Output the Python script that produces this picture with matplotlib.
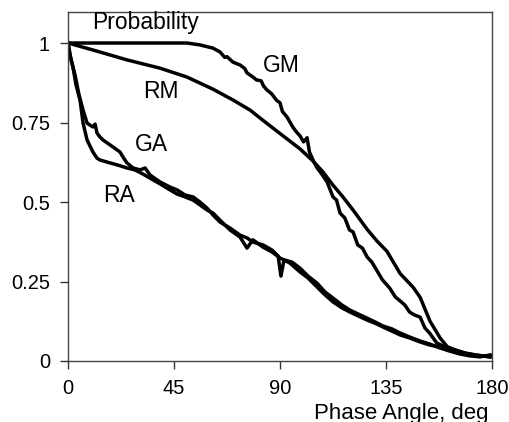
import matplotlib
matplotlib.use("Agg")
import matplotlib.pyplot as plt

plt.rcParams['font.family'] = ['Liberation Sans', 'DejaVu Sans']

# phase angle (deg) and probability
gm_x = [0, 22, 45, 50.5, 56, 61.5, 64.5, 66.5, 67.5, 70, 73, 75, 76, 78.5, 80, 82, 83, 84.5, 86.5, 88.5,
        90, 91, 93, 95.5, 97, 98.5, 100, 101.5, 102.5, 104, 105.5, 108, 110, 112.5, 114, 115.5, 117.5, 119.5, 121, 123,
        125, 127, 129, 131, 133.5, 136.5, 139, 141, 143, 145, 147, 149.5, 151.5, 153.5, 156.5, 160, 164, 168.5, 173, 179]
gm_y = [1, 1, 1, 1, 0.994, 0.984, 0.972, 0.955, 0.957, 0.94, 0.931, 0.92, 0.906, 0.893, 0.884, 0.881, 0.865, 0.852, 0.84, 0.82,
        0.812, 0.785, 0.767, 0.735, 0.72, 0.708, 0.689, 0.702, 0.657, 0.632, 0.61, 0.585, 0.563, 0.516, 0.506, 0.465, 0.45, 0.412, 0.406, 0.365,
        0.355, 0.327, 0.311, 0.286, 0.255, 0.23, 0.201, 0.189, 0.176, 0.154, 0.145, 0.138, 0.104, 0.088, 0.057, 0.044, 0.035, 0.025, 0.019, 0.013]

rm_x = [0, 10.6, 25, 39, 50.5, 61.5, 70, 77.3, 83.6, 91.3, 98.5, 104, 108.3, 112.5, 116.7, 121, 126.9, 131.2, 135.4, 141,
        146.5, 149.5, 153.7, 158, 161, 164.3, 168.5, 172.8, 179.2]
rm_y = [1, 0.978, 0.947, 0.921, 0.893, 0.855, 0.821, 0.789, 0.752, 0.708, 0.667, 0.629, 0.594, 0.553, 0.516, 0.475, 0.415, 0.377, 0.345, 0.275,
        0.232, 0.2, 0.125, 0.072, 0.045, 0.035, 0.025, 0.019, 0.013]

ga_x = [0, 1.3, 3.0, 4.7, 6.4, 8.1, 9.3, 10.6, 11.5, 12.3, 13.6, 14.9, 16.6, 19.1, 20.8, 22.1, 23.3, 25.0, 27.6, 30.6,
        32.7, 34.8, 39.1, 43.3, 46.3, 49.7, 53.1, 56, 59, 61.6, 64.5, 68.8, 73, 76, 78.5, 82.8, 86.6, 89.2, 90.4, 91.7,
        95.1, 98.5, 101.9, 105.7, 109.1, 112.5, 116.3, 119.7, 123.1, 126.9, 130.3, 133.7, 137.5, 141, 145.2, 149.4, 153.7, 157.9, 162.1, 166.4,
        170.7, 174.9, 179.2]
ga_y = [1, 0.947, 0.899, 0.836, 0.789, 0.748, 0.742, 0.736, 0.745, 0.717, 0.704, 0.695, 0.686, 0.673, 0.664, 0.657, 0.642, 0.623, 0.607, 0.601,
        0.607, 0.585, 0.563, 0.547, 0.538, 0.522, 0.516, 0.5, 0.481, 0.459, 0.437, 0.418, 0.396, 0.387, 0.374, 0.365, 0.349, 0.330, 0.267, 0.318,
        0.311, 0.292, 0.267, 0.245, 0.217, 0.198, 0.176, 0.160, 0.148, 0.135, 0.123, 0.110, 0.101, 0.088, 0.075, 0.063, 0.053, 0.041, 0.031, 0.022,
        0.016, 0.013, 0.019]

ra_x = [0, 0.85, 2.1, 3.4, 5.1, 6.4, 8.1, 10.6, 12.3, 13.6, 17.8, 21.2, 25, 28.4, 31.8, 34.8, 39.1, 43.3, 46.3, 49.7,
        53.1, 56, 59, 61.6, 64.5, 68.8, 73, 76, 78.5, 82.8, 86.6, 90, 94.2, 98.5, 101.9, 105.7, 109.1, 112.5, 116.3, 119.7,
        123.1, 126.9, 130.3, 133.7, 137.5, 141, 145.2, 149.4, 153.7, 157.9, 162.1, 166.4, 170.7, 174.9, 179.2]
ra_y = [1, 0.962, 0.925, 0.868, 0.821, 0.748, 0.695, 0.657, 0.638, 0.632, 0.623, 0.616, 0.607, 0.601, 0.588, 0.575, 0.557, 0.538, 0.525, 0.516,
        0.506, 0.491, 0.475, 0.465, 0.443, 0.412, 0.390, 0.355, 0.381, 0.358, 0.343, 0.324, 0.308, 0.280, 0.261, 0.233, 0.208, 0.186, 0.167, 0.154,
        0.142, 0.129, 0.119, 0.107, 0.094, 0.082, 0.072, 0.060, 0.050, 0.044, 0.035, 0.025, 0.019, 0.016, 0.016]

x_ticks = [0, 45, 90, 135, 180]
y_ticks = [0, 0.25, 0.5, 0.75, 1]
y_tick_labels = ["0", "0.25", "0.5", "0.75", "1"]

fig = plt.figure(figsize=(5.09, 4.22), dpi=100)
ax = fig.add_axes([68/509, 1-361/422, 424/509, 349/422])

for xs, ys in [(gm_x, gm_y), (rm_x, rm_y), (ga_x, ga_y), (ra_x, ra_y)]:
    ax.plot(xs, ys, color='black', lw=2.5, solid_joinstyle='round')

ax.set_xlim(0, 180)
ax.set_ylim(0, 1.0975)
ax.set_xticks(x_ticks)
ax.set_xticklabels([str(t) for t in x_ticks])
ax.set_yticks(y_ticks)
ax.set_yticklabels(y_tick_labels)
ax.tick_params(axis='x', direction='out', length=6, width=1, labelsize=14.5, pad=7, color='#333333')
ax.tick_params(axis='y', direction='out', length=6, width=1, labelsize=14.5, pad=7, color='#333333')
for s in ax.spines.values():
    s.set_color('#444444')
    s.set_linewidth(1)

ax.text(33, 1.044, "Probability", fontsize=16.5, ha='center', va='baseline')
ax.text(90.5, 0.93, "GM", fontsize=16.5, ha='center', va='center')
ax.text(39.3, 0.847, "RM", fontsize=16.5, ha='center', va='center')
ax.text(35.4, 0.68, "GA", fontsize=16.5, ha='center', va='center')
ax.text(21.5, 0.522, "RA", fontsize=16.5, ha='center', va='center')

fig.text(488/509, 1-418.5/422, "Phase Angle, deg", fontsize=16, ha='right', va='baseline')

fig.savefig("out.png", dpi=100)
